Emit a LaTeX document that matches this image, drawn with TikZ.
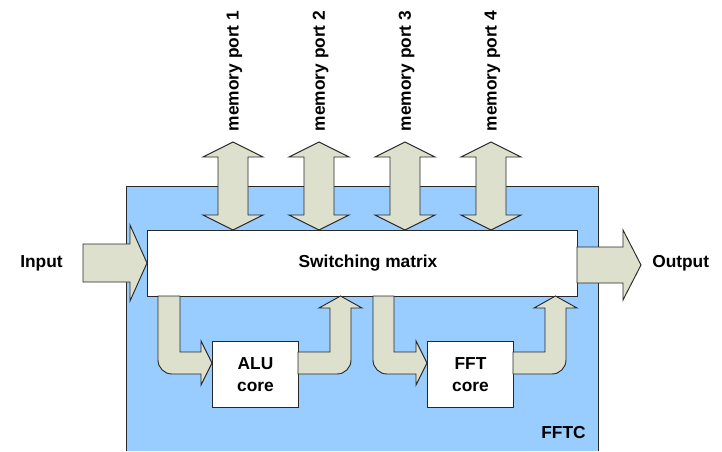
\documentclass[tikz,border=0pt]{standalone}
\usepackage{fontspec}
\setmainfont{Liberation Sans}
\definecolor{fftcblue}{RGB}{153,204,255}
\definecolor{arrowfill}{RGB}{221,224,204}
\definecolor{edge}{RGB}{40,40,40}
\begin{document}
\begin{tikzpicture}[x=0.75pt,y=-0.75pt,
  lbl/.style={font=\fontsize{13}{16.5}\selectfont\bfseries, inner sep=0pt, align=center},
  arr/.style={fill=arrowfill, draw=edge, line width=0.7pt, line join=miter},
  boxst/.style={fill=white, draw=edge, line width=0.7pt}]
\useasboundingbox (0,0) rectangle (722,451);
% FFTC container
\fill[fftcblue] (126,186) rectangle (598,451);
\draw[edge, line width=0.7pt] (126,451) -- (126,186) -- (598,186) -- (598,451);
\node[lbl, anchor=center] (fftc) at (563.5,433) {FFTC};
% memory port arrows and labels
\foreach \cx/\n in {233/1,319/2,405/3,491/4}{
  \filldraw[arr] (\cx,142) -- (\cx+30,157) -- (\cx+15,157) -- (\cx+15,215) -- (\cx+30,215)
     -- (\cx,230) -- (\cx-30,215) -- (\cx-15,215) -- (\cx-15,157) -- (\cx-30,157) -- cycle;
  \node[lbl, rotate=90] (mp\n) at (\cx+1.5,71) {memory port \n};
}
% switching matrix
\node[boxst, minimum width=430*0.75pt, minimum height=66*0.75pt, anchor=north west, inner sep=0pt] (sw) at (147,230) {};
\node[lbl] (swl) at (368,263) {Switching matrix};
% input arrow
\filldraw[arr] (83,244) -- (130,244) -- (130,225) -- (147,263) -- (130,301) -- (130,282) -- (83,282) -- cycle;
\node[lbl] (in) at (41.5,263) {Input};
% output arrow
\filldraw[arr] (577,247) -- (623,247) -- (623,230) -- (641,265) -- (623,300) -- (623,283) -- (577,283) -- cycle;
\node[lbl, anchor=west] (out) at (652,263) {Output};
% cores
\node[boxst, minimum width=86*0.75pt, minimum height=66*0.75pt, anchor=north west, inner sep=0pt] (alu) at (212,341) {};
\node[lbl] (alul) at (alu.center) {ALU\\core};
\node[boxst, minimum width=86*0.75pt, minimum height=66*0.75pt, anchor=north west, inner sep=0pt] (fft) at (427,341) {};
\node[lbl] (fftl) at (fft.center) {FFT\\core};
% ALU in / out
\filldraw[arr] (158,296) -- (158,360) .. controls (158,367.7) and (164.3,374) .. (172,374) -- (201,374)
  -- (201,385) -- (212,363) -- (201,341) -- (201,352) -- (180,352) -- (180,296) -- cycle;
\filldraw[arr] (298,352) -- (330,352) -- (330,308) -- (319,308) -- (340.5,296) -- (362,308) -- (351,308)
  -- (351,360) .. controls (351,367.7) and (344.7,374) .. (337,374) -- (298,374) -- cycle;
% FFT in / out
\filldraw[arr] (373,296) -- (373,360) .. controls (373,367.7) and (379.3,374) .. (387,374) -- (416,374)
  -- (416,385) -- (427,363) -- (416,341) -- (416,352) -- (394,352) -- (394,296) -- cycle;
\filldraw[arr] (513,352) -- (545,352) -- (545,308) -- (534,308) -- (555.5,296) -- (577,308) -- (566,308)
  -- (566,360) .. controls (566,367.7) and (559.7,374) .. (552,374) -- (513,374) -- cycle;
\end{tikzpicture}
\end{document}
